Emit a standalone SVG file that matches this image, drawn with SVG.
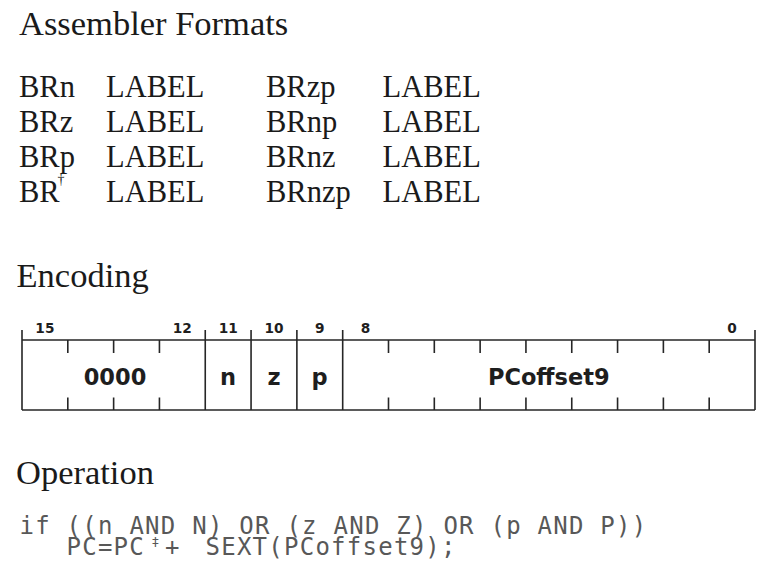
<svg xmlns="http://www.w3.org/2000/svg" width="764" height="579" viewBox="0 0 764 579">
<style>
.h{font-family:"Liberation Serif","Times New Roman",serif;font-size:34.5px;fill:#1a1a1a}
.r{font-family:"Liberation Serif","Times New Roman",serif;font-size:30.5px;fill:#1a1a1a}
.sup{font-size:14px}
.bit{font-family:"DejaVu Sans",sans-serif;font-weight:700;font-size:13.7px;fill:#1e1e1e;text-anchor:middle}
.fld{font-family:"DejaVu Sans",sans-serif;font-weight:700;font-size:22.5px;fill:#1e1e1e;text-anchor:middle}
.code{font-family:"DejaVu Sans Mono",monospace;font-size:24px;fill:#585858;letter-spacing:1.25px}
.csup{font-size:13px;letter-spacing:0}
.ln{stroke:#262626;stroke-width:1.6;fill:none}
</style>
<rect width="764" height="579" fill="#ffffff"/>

<g id="assembler-formats">
<text class="h" x="19" y="35">Assembler Formats</text>
<g id="row1">
<text class="r" x="19" y="97">BRn</text><text class="r" x="106" y="97">LABEL</text>
<text class="r" x="266" y="97">BRzp</text><text class="r" x="382.5" y="97">LABEL</text>
</g>
<g id="row2">
<text class="r" x="19" y="132">BRz</text><text class="r" x="106" y="132">LABEL</text>
<text class="r" x="266" y="132">BRnp</text><text class="r" x="382.5" y="132">LABEL</text>
</g>
<g id="row3">
<text class="r" x="19" y="167">BRp</text><text class="r" x="106" y="167">LABEL</text>
<text class="r" x="266" y="167">BRnz</text><text class="r" x="382.5" y="167">LABEL</text>
</g>
<g id="row4">
<text class="r" x="19" y="202">BR<tspan class="sup" x="57.5" y="184">†</tspan></text><text class="r" x="106" y="202">LABEL</text>
<text class="r" x="266" y="202">BRnzp</text><text class="r" x="382.5" y="202">LABEL</text>
</g>
</g>

<g id="encoding">
<text class="h" x="16.5" y="287">Encoding</text>
<g id="bit-numbers">
<text class="bit" x="44.9" y="333">15</text>
<text class="bit" x="182.3" y="333">12</text>
<text class="bit" x="228.2" y="333">11</text>
<text class="bit" x="274" y="333">10</text>
<text class="bit" x="319.8" y="333">9</text>
<text class="bit" x="365.6" y="333">8</text>
<text class="bit" x="732.1" y="333">0</text>
</g>
<g id="frame" class="ln">
<path d="M22,340H755M22,410H755M22,330V410M755,330V410M205.25,330V410M251.06,330V410M296.88,330V410M342.69,330V410"/>
<path d="M67.81,340V353M113.63,340V353M159.44,340V353M388.5,340V353M434.31,340V353M480.13,340V353M525.94,340V353M571.75,340V353M617.56,340V353M663.38,340V353M709.19,340V353"/>
<path d="M67.81,397.5V410M113.63,397.5V410M159.44,397.5V410M388.5,397.5V410M434.31,397.5V410M480.13,397.5V410M525.94,397.5V410M571.75,397.5V410M617.56,397.5V410M663.38,397.5V410M709.19,397.5V410"/>
</g>
<g id="field-opcode"><text class="fld" x="115" y="385">0000</text></g>
<g id="field-n"><text class="fld" x="228" y="385">n</text></g>
<g id="field-z"><text class="fld" x="274" y="385">z</text></g>
<g id="field-p"><text class="fld" x="319.5" y="385">p</text></g>
<g id="field-pcoffset9"><text class="fld" x="548.8" y="385">PCoffset9</text></g>
</g>

<g id="operation">
<text class="h" x="16" y="483.5">Operation</text>
<text class="code" x="19.5" y="533.5">if ((n AND N) OR (z AND Z) OR (p AND P))<tspan x="66.5" y="555">PC=PC</tspan><tspan class="csup" x="151.5" y="545.5">‡</tspan><tspan x="165" y="555">+</tspan><tspan x="205.5" y="555">SEXT(PCoffset9);</tspan></text>
</g>
</svg>
